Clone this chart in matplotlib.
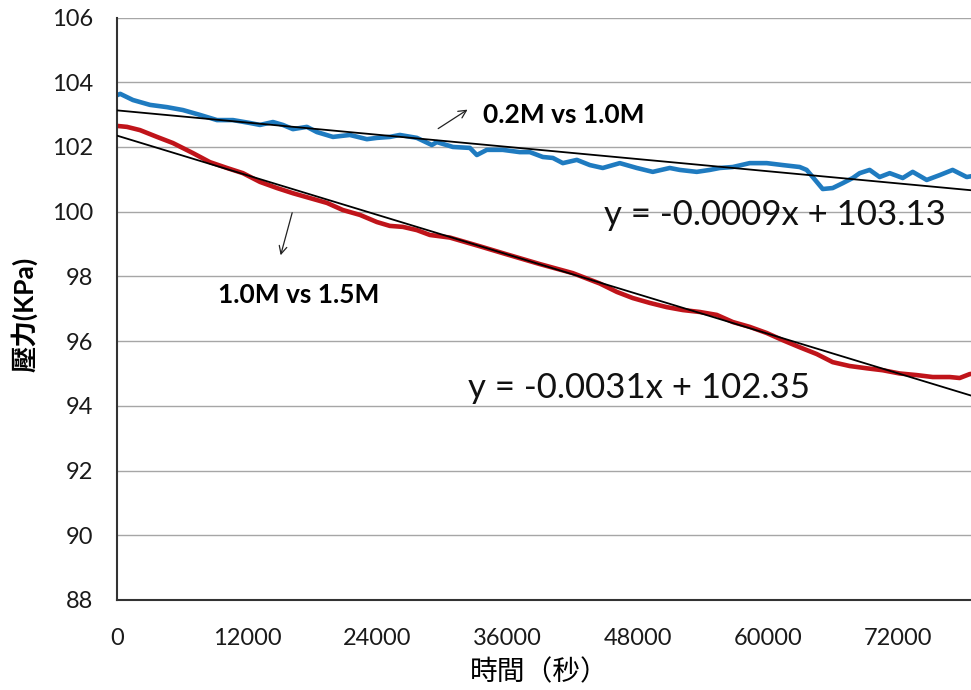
import numpy as np
import matplotlib.pyplot as plt

plt.rcParams['font.family'] = ['Lato', 'DejaVu Sans']

# pressure log, 0.2M vs 1.0M (time in s, pressure in KPa)
t_a = [0, 300, 1470, 3040, 4610, 6080, 7650, 9220, 10690, 12260, 13180, 14380,
       15300, 16220, 17510, 18430, 19910, 21470, 23040, 23960, 25160, 26080,
       27650, 29030, 29490, 30970, 32540, 33180, 34100, 35570, 37140, 38070,
       39260, 40190, 41110, 42400, 43600, 44790, 46360, 47930, 49400, 50970,
       51890, 53460, 54660, 55580, 56780, 58340, 59910, 61380, 62950, 63590,
       64150, 65070, 65990, 66910, 67840, 68480, 69400, 70320, 71250, 72450,
       73370, 74660, 75860, 77050, 78350, 79360]
p_a = [103.60, 103.64, 103.45, 103.30, 103.23, 103.14, 102.99, 102.83, 102.83,
       102.74, 102.68, 102.77, 102.68, 102.55, 102.62, 102.46, 102.31, 102.37,
       102.24, 102.28, 102.31, 102.37, 102.28, 102.06, 102.15, 102.00, 101.97,
       101.75, 101.91, 101.91, 101.84, 101.84, 101.69, 101.66, 101.50, 101.60,
       101.44, 101.35, 101.50, 101.35, 101.23, 101.35, 101.29, 101.23, 101.29,
       101.35, 101.38, 101.50, 101.50, 101.44, 101.38, 101.29, 101.07, 100.70,
       100.73, 100.88, 101.04, 101.19, 101.29, 101.07, 101.19, 101.04, 101.23,
       100.98, 101.13, 101.29, 101.07, 101.13]

# pressure log, 1.0M vs 1.5M
t_b = [0, 920, 2120, 3690, 5160, 7000, 8570, 10140, 11610, 13180, 14750, 16220,
       17790, 19360, 20830, 22400, 23960, 25160, 26360, 27650, 28850, 30690,
       33460, 35950, 38990, 42030, 44520, 46090, 47560, 49130, 50690, 52170,
       53740, 55300, 56780, 58340, 59910, 61380, 62950, 64520, 65990, 67560,
       69130, 70600, 72170, 73740, 75210, 76780, 77700, 78620, 79540]
p_b = [102.65, 102.62, 102.52, 102.31, 102.12, 101.81, 101.53, 101.35, 101.19,
       100.92, 100.73, 100.57, 100.42, 100.27, 100.05, 99.90, 99.68, 99.56,
       99.53, 99.43, 99.28, 99.20, 98.93, 98.68, 98.38, 98.10, 97.78, 97.52,
       97.33, 97.18, 97.05, 96.96, 96.90, 96.81, 96.59, 96.44, 96.25, 96.03,
       95.81, 95.60, 95.35, 95.23, 95.16, 95.10, 95.00, 94.95, 94.89, 94.89,
       94.86, 94.98, 95.02]

# linear fits, x counted in samples (one sample every 30 s)
dt = 30.0
slope_a, icpt_a = -0.00094, 103.13
slope_b, icpt_b = -0.00306, 102.35

x_ticks = [0, 12000, 24000, 36000, 48000, 60000, 72000]
y_ticks = [88, 90, 92, 94, 96, 98, 100, 102, 104, 106]

fig = plt.figure(figsize=(9.71, 6.90), dpi=100)
ax = fig.add_axes([117 / 971, 90 / 690, 911 / 971, 582.5 / 690])

for y in y_ticks:
    ax.axhline(y, color='#a6a6a6', lw=1.0, zorder=0)

ax.plot(t_a, p_a, color='#1f7bc0', lw=3.3, solid_joinstyle='round', zorder=2)
ax.plot(t_b, p_b, color='#c0141a', lw=3.3, solid_joinstyle='round', zorder=2)

tt = np.array([0, 84000])
ax.plot(tt, icpt_a + slope_a * tt / dt, color='black', lw=1.3, zorder=3)
ax.plot(tt, icpt_b + slope_b * tt / dt, color='black', lw=1.3, zorder=3)

ax.set_xlim(0, 84000)
ax.set_ylim(88, 106)
ax.set_xticks(x_ticks)
ax.set_yticks(y_ticks)
ax.tick_params(length=0, labelsize=17, colors='#1a1a1a')
ax.tick_params(axis='x', pad=20)
ax.tick_params(axis='y', pad=17)
for s in ['top', 'right']:
    ax.spines[s].set_visible(False)
for s in ['left', 'bottom']:
    ax.spines[s].set_linewidth(1.5)
    ax.spines[s].set_color('#333333')

ax.set_ylabel('壓力(KPa)', family=['Lato', 'Noto Sans CJK TC'],
              fontsize=19, fontweight='bold')
ax.yaxis.set_label_coords(-0.087, 0.49)
ax.set_xlabel('時間（秒）', family=['Noto Sans CJK TC', 'DejaVu Sans'],
              fontsize=20)
ax.xaxis.set_label_coords(0.464, -0.098)

eq_a = f'y = {slope_a:.4f}x + {icpt_a:.2f}'
eq_b = f'y = {slope_b:.4f}x + {icpt_b:.2f}'
ax.text(44900, 99.9, eq_a, fontsize=25, va='center', color='#111111')
ax.text(32400, 94.55, eq_b, fontsize=25, va='center', color='#111111')

ax.text(33740, 103.0, '0.2M vs 1.0M', fontsize=19, fontweight='bold', va='center')
ax.text(9310, 97.42, '1.0M vs 1.5M', fontsize=19, fontweight='bold', va='center')
arrow = dict(arrowstyle='->', color='#222222', lw=0.9, mutation_scale=14)
ax.annotate('', xy=(32540, 103.2), xytext=(29400, 102.52), arrowprops=arrow)
ax.annotate('', xy=(15020, 98.57), xytext=(16220, 100.05), arrowprops=arrow)

fig.savefig('out.png', dpi=100)
